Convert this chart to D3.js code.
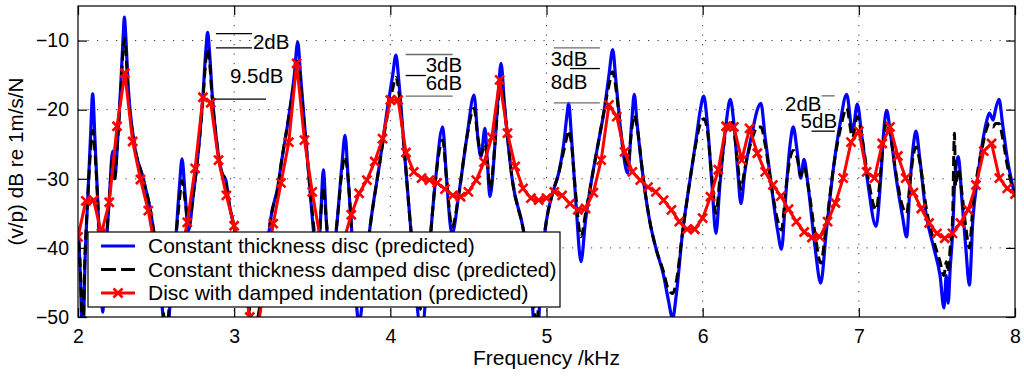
<!DOCTYPE html>
<html>
<head>
<meta charset="utf-8">
<script src="https://cdn.jsdelivr.net/npm/d3@7"></script>
<style>
  body { margin: 0; background: #fff; }
  svg { display: block; }
  text { font-family: "Liberation Sans", Arial, Helvetica, sans-serif; fill: #000; }
</style>
</head>
<body>
<svg id="chart" width="1024" height="376"></svg>
<script>

// ---- data (frequency kHz, level dB) ----
const xTicks = [2, 3, 4, 5, 6, 7, 8];
const yTicks = [-50, -40, -30, -20, -10];

const plainDisc = [
  [2.000,-37],[2.015,-44],[2.030,-55],[2.045,-42],[2.062,-33],[2.080,-24],[2.094,-17.7],[2.108,-24],
  [2.126,-33],[2.145,-44],[2.158,-49.3],[2.175,-42],[2.200,-33],[2.222,-26],[2.235,-30],[2.255,-24],
  [2.275,-16],[2.290,-9],[2.297,-6.6],[2.305,-9],[2.320,-16],[2.360,-24.9],[2.414,-29.7],[2.467,-35],
  [2.510,-42],[2.545,-50],[2.565,-55],[2.590,-48],[2.625,-39],[2.650,-31],[2.666,-27.1],[2.685,-32],
  [2.707,-37.5],[2.740,-32],[2.775,-25],[2.800,-18],[2.820,-11],[2.830,-8.8],[2.840,-11],[2.860,-18],
  [2.890,-25],[2.920,-29],[2.948,-30.3],[2.960,-32.5],[3.000,-37],[3.050,-43],[3.100,-50],[3.130,-55],
  [3.160,-50],[3.200,-42],[3.240,-35],[3.279,-31.2],[3.300,-28],[3.350,-21],[3.385,-15],[3.407,-10.2],
  [3.425,-15],[3.450,-22],[3.480,-30],[3.510,-38],[3.535,-42],[3.555,-35],[3.571,-28.7],[3.590,-36],
  [3.620,-44],[3.660,-36],[3.690,-28],[3.710,-23.7],[3.730,-30],[3.760,-40],[3.800,-51],[3.820,-48],
  [3.870,-37],[3.930,-28],[3.980,-20],[4.015,-15],[4.036,-12.1],[4.055,-16],[4.090,-26],[4.130,-37],
  [4.200,-52],[4.250,-40],[4.290,-30],[4.335,-22.5],[4.360,-30],[4.395,-38],[4.440,-32],[4.490,-24],
  [4.536,-17.9],[4.560,-24],[4.580,-26.8],[4.606,-22.7],[4.620,-27],[4.638,-32.6],[4.670,-25],[4.690,-18],
  [4.709,-13.3],[4.730,-19],[4.780,-30],[4.852,-37.4],[4.900,-45],[4.935,-55],[4.970,-42],[5.000,-36],
  [5.040,-32],[5.080,-29],[5.110,-25],[5.130,-21],[5.142,-19.1],[5.160,-24],[5.190,-34],[5.221,-42],
  [5.250,-36],[5.290,-30],[5.330,-25],[5.370,-20],[5.400,-15],[5.424,-11.3],[5.445,-16],[5.480,-24],
  [5.520,-29.2],[5.545,-22],[5.562,-17.8],[5.580,-22],[5.620,-30],[5.660,-36],[5.700,-40],[5.750,-44],
  [5.780,-47.5],[5.808,-50.2],[5.830,-47],[5.870,-38],[5.920,-30],[5.960,-24],[5.985,-20],[6.007,-18.05],
  [6.030,-22],[6.060,-31],[6.085,-37.9],[6.110,-31],[6.150,-22],[6.177,-18.5],[6.200,-22],[6.225,-29],
  [6.245,-33.6],[6.270,-29],[6.320,-23],[6.350,-20],[6.373,-19.1],[6.400,-24],[6.440,-31],[6.480,-37.5],
  [6.505,-40.2],[6.530,-33],[6.560,-25],[6.580,-22.5],[6.605,-26],[6.628,-29.9],[6.649,-27.2],[6.675,-31],
  [6.720,-40],[6.756,-45.1],[6.790,-38],[6.840,-28],[6.880,-22],[6.922,-17.8],[6.960,-23.2],[6.990,-19.2],
  [7.020,-24],[7.060,-31],[7.110,-36.9],[7.140,-30],[7.160,-23],[7.178,-20.1],[7.200,-23],[7.240,-30],
  [7.280,-35.5],[7.306,-38.4],[7.330,-30],[7.350,-25],[7.366,-23.1],[7.390,-27],[7.430,-35],[7.480,-40],
  [7.520,-44],[7.545,-48.7],[7.560,-44],[7.572,-48],[7.585,-43],[7.600,-38],[7.615,-30],[7.637,-26.8],
  [7.660,-33],[7.685,-40],[7.708,-45.4],[7.730,-36],[7.760,-30],[7.790,-25],[7.815,-22],[7.836,-20.5],
  [7.860,-21.5],[7.875,-20],[7.898,-18.5],[7.920,-22],[7.950,-27],[7.980,-30.5],[8.000,-32.6]
];

const dampedDisc = [
  [2.000,-37],[2.015,-43],[2.030,-52],[2.045,-41],[2.062,-33],[2.080,-26],[2.094,-23],[2.108,-26],
  [2.126,-33],[2.145,-42],[2.158,-46],[2.175,-41],[2.200,-33],[2.222,-27],[2.235,-30],[2.255,-24],
  [2.275,-17],[2.290,-11],[2.297,-9.7],[2.305,-11],[2.320,-17],[2.360,-24.9],[2.414,-29.7],[2.467,-35],
  [2.510,-42],[2.545,-49],[2.565,-52],[2.590,-47],[2.625,-39],[2.650,-33],[2.666,-30.3],[2.685,-33],
  [2.707,-36.5],[2.740,-32],[2.775,-25],[2.800,-18.5],[2.820,-12.5],[2.830,-11.2],[2.840,-12.5],[2.860,-18.5],
  [2.890,-25],[2.920,-29],[2.948,-30.5],[2.960,-32.5],[3.000,-37],[3.050,-43],[3.100,-49],[3.130,-52],
  [3.160,-49],[3.200,-42],[3.240,-35],[3.279,-31.5],[3.300,-28],[3.350,-21],[3.385,-16],[3.407,-13],
  [3.425,-16],[3.450,-22.5],[3.480,-30],[3.510,-37],[3.535,-41],[3.555,-35],[3.571,-31.2],[3.590,-36],
  [3.620,-42],[3.660,-36],[3.690,-29],[3.710,-26.8],[3.730,-30],[3.760,-40],[3.800,-48],[3.820,-46],
  [3.870,-37],[3.930,-28],[3.980,-21],[4.015,-17],[4.036,-15.3],[4.055,-17.5],[4.090,-26],[4.130,-37],
  [4.200,-49],[4.250,-40],[4.290,-30],[4.335,-24.4],[4.360,-30],[4.395,-37],[4.440,-32],[4.490,-24],
  [4.536,-19.8],[4.560,-24],[4.580,-26.5],[4.606,-25],[4.620,-27],[4.638,-31.5],[4.670,-25],[4.690,-19],
  [4.709,-15.8],[4.730,-19.5],[4.780,-30],[4.852,-37.4],[4.900,-44],[4.935,-51],[4.970,-41],[5.000,-36],
  [5.040,-32],[5.080,-29],[5.110,-26],[5.130,-24],[5.142,-23],[5.160,-25],[5.190,-33],[5.221,-38.4],
  [5.250,-35],[5.290,-30],[5.330,-25],[5.370,-20],[5.400,-16.5],[5.424,-14.5],[5.445,-17],[5.480,-24],
  [5.520,-28],[5.545,-23],[5.562,-20.8],[5.580,-22.5],[5.620,-30],[5.660,-36],[5.700,-40],[5.750,-43.5],
  [5.780,-46],[5.808,-46.6],[5.830,-45],[5.870,-38],[5.920,-30],[5.960,-24.5],[5.985,-22],[6.007,-21.3],
  [6.030,-23],[6.060,-30],[6.085,-35],[6.110,-30],[6.150,-23],[6.177,-21.5],[6.200,-23],[6.225,-28],
  [6.245,-31.5],[6.270,-28.5],[6.320,-24],[6.350,-22.5],[6.373,-22.5],[6.400,-25],[6.440,-31],[6.480,-36],
  [6.505,-37.4],[6.530,-32],[6.560,-27],[6.580,-25.9],[6.605,-27],[6.628,-29.5],[6.649,-28.3],[6.675,-31],
  [6.720,-38],[6.756,-42.2],[6.790,-37],[6.840,-28],[6.880,-23],[6.922,-19.8],[6.960,-24],[6.990,-21],
  [7.020,-24],[7.060,-30],[7.110,-34.5],[7.140,-29],[7.160,-24],[7.178,-21.8],[7.200,-23.5],[7.240,-29.5],
  [7.280,-34],[7.306,-35],[7.330,-30],[7.350,-26.5],[7.366,-25.4],[7.390,-27.5],[7.430,-34],[7.480,-39],
  [7.520,-42],[7.545,-44],[7.560,-42],[7.572,-43.5],[7.585,-40],[7.600,-36],[7.612,-23.4],[7.620,-31],
  [7.637,-28.5],[7.660,-32],[7.685,-37],[7.708,-40],[7.730,-34],[7.760,-29],[7.790,-25.5],[7.815,-23],
  [7.836,-22],[7.860,-22.5],[7.875,-22],[7.898,-22],[7.920,-24],[7.950,-28],[7.980,-31],[8.000,-32.6]
];

const indented = [
  [2.00,-38.4],[2.05,-33.2],[2.10,-33.1],[2.15,-37.9],[2.20,-33.4],[2.25,-22.4],[2.30,-14.7],[2.35,-24.6],
  [2.40,-30.1],[2.45,-34.6],[2.50,-41],[2.55,-45],[2.60,-46],[2.65,-42],[2.70,-36.3],[2.75,-28.5],
  [2.80,-18.2],[2.85,-19.0],[2.90,-27.3],[2.95,-32.4],[3.00,-36.8],[3.05,-43],[3.10,-50],[3.15,-52],
  [3.20,-44],[3.25,-36.5],[3.30,-30.6],[3.35,-24.7],[3.40,-13.3],[3.45,-24.4],[3.50,-31.9],[3.55,-38.5],
  [3.60,-43],[3.65,-43],[3.70,-39],[3.75,-35.2],[3.80,-32.1],[3.85,-30.2],[3.90,-27.5],[3.95,-24.2],
  [4.00,-18.6],[4.05,-18.6],[4.10,-26.2],[4.15,-29.0],[4.20,-29.9],[4.25,-30.2],[4.30,-30.6],[4.35,-31.5],
  [4.40,-32.4],[4.45,-32.6],[4.50,-31.9],[4.55,-30.2],[4.60,-27.6],[4.65,-24.0],[4.70,-15.7],[4.75,-23.4],
  [4.80,-28.2],[4.85,-31.4],[4.90,-32.8],[4.95,-33.1],[5.00,-32.8],[5.05,-31.9],[5.10,-32.4],[5.15,-33.6],
  [5.20,-34.5],[5.25,-34.3],[5.30,-32.0],[5.35,-27.3],[5.40,-19.3],[5.45,-21.0],[5.50,-26.1],[5.55,-29.0],
  [5.60,-30.2],[5.65,-31.2],[5.70,-31.9],[5.75,-33.1],[5.80,-34.5],[5.85,-36.2],[5.90,-37.3],[5.95,-37.3],
  [6.00,-35.7],[6.05,-32.6],[6.10,-28.7],[6.15,-22.4],[6.20,-22.5],[6.25,-27.3],[6.30,-22.7],[6.35,-26.3],
  [6.40,-29.0],[6.45,-30.9],[6.50,-32.5],[6.55,-34.4],[6.60,-36.2],[6.65,-37.7],[6.70,-38.5],[6.75,-38.4],
  [6.80,-36.2],[6.85,-33.5],[6.90,-29.9],[6.95,-24.7],[7.00,-23.1],[7.05,-29.0],[7.10,-29.9],[7.15,-24.9],
  [7.20,-22.5],[7.25,-26.7],[7.30,-29.9],[7.35,-32.0],[7.40,-34.3],[7.45,-36.4],[7.50,-37.9],[7.55,-38.6],
  [7.60,-37.9],[7.65,-36.4],[7.70,-34.5],[7.75,-30.9],[7.80,-26.0],[7.85,-24.9],[7.90,-29.9],[7.95,-31.4],
  [8.00,-32.2]
];

const seriesNames = [
  "Constant thickness disc (predicted)",
  "Constant thickness damped disc (predicted)",
  "Disc with damped indentation (predicted)"
];

// level-difference notes: lines [f1, f2, dB, grey?] and labels [f, dB, text, anchor]
const noteLines = [
  [2.883, 3.114, -8.99, false], [2.883, 3.114, -11.07, false], [2.871, 3.204, -18.48, false],
  [4.098, 4.399, -12.02, true], [4.098, 4.229, -15.06, false], [4.098, 4.399, -18.05, true],
  [5.047, 5.342, -11.07, true], [5.150, 5.342, -14.05, false], [5.047, 5.342, -19.02, true],
  [6.761, 6.846, -18.0, true], [6.697, 6.846, -23.11, false]
];
const noteLabels = [
  [3.120, -11.16, "2dB", "start"], [2.973, -16.21, "9.5dB", "start"],
  [4.460, -14.54, "3dB", "end"], [4.460, -17.18, "6dB", "end"],
  [5.028, -13.67, "3dB", "start"], [5.028, -17.08, "8dB", "start"],
  [6.761, -20.17, "2dB", "end"], [6.627, -22.63, "5dB", "start"]
];

// ---- drawing ----
const mLeft = 78, mRight = 1015, mTop = 6, mBottom = 317;

const svg = d3.select("#chart");
const x = d3.scaleLinear().domain([2, 8]).range([mLeft, mRight]);
const y = d3.scaleLinear().domain([-50, -5]).range([mBottom, mTop]);

svg.append("defs").append("clipPath").attr("id", "plotclip")
  .append("rect")
  .attr("x", mLeft).attr("y", mTop)
  .attr("width", mRight - mLeft).attr("height", mBottom - mTop);

// dotted grid
let grid = svg.append("g").attr("stroke", "#333").attr("stroke-width", 1)
  .attr("stroke-dasharray", "1.2,8.3");
grid.selectAll(".gx").data(xTicks.slice(1, -1)).enter().append("line")
  .attr("x1", d => x(d)).attr("x2", d => x(d))
  .attr("y1", mTop).attr("y2", mBottom);
grid.selectAll(".gy").data(yTicks.slice(1)).enter().append("line")
  .attr("x1", mLeft).attr("x2", mRight)
  .attr("y1", d => y(d)).attr("y2", d => y(d));

// axes, ticks pointing inward on all four sides
const tickLen = 9;
let fmt = d3.format("d");
let axB = svg.append("g").attr("transform", "translate(0," + mBottom + ")")
  .call(d3.axisBottom(x).tickValues(xTicks).tickFormat(fmt).tickSizeInner(-tickLen).tickSizeOuter(0).tickPadding(12));
let axL = svg.append("g").attr("transform", "translate(" + mLeft + ",0)")
  .call(d3.axisLeft(y).tickValues(yTicks).tickFormat(fmt).tickSizeInner(-tickLen).tickSizeOuter(0).tickPadding(9));
svg.append("g").attr("transform", "translate(0," + mTop + ")")
  .call(d3.axisTop(x).tickValues(xTicks).tickFormat("").tickSizeInner(-tickLen).tickSizeOuter(0));
svg.append("g").attr("transform", "translate(" + mRight + ",0)")
  .call(d3.axisRight(y).tickValues(yTicks).tickFormat("").tickSizeInner(-tickLen).tickSizeOuter(0));

svg.selectAll(".domain").remove();
svg.selectAll(".tick line").attr("stroke", "#000").attr("stroke-width", 1.2);
axB.selectAll("text").style("font-size", "19.5px").attr("fill", "#000");
axL.selectAll("text").style("font-size", "19.5px").attr("fill", "#000");

// curves
const lineGen = d3.line()
  .x(d => x(d[0]))
  .y(d => y(d[1]))
  .curve(d3.curveMonotoneX);

let plot = svg.append("g").attr("clip-path", "url(#plotclip)");

plot.append("path").datum(plainDisc)
  .attr("fill", "none").attr("stroke", "#0000ff").attr("stroke-width", 3.2)
  .attr("stroke-linejoin", "round")
  .attr("d", lineGen);

plot.append("path").datum(dampedDisc)
  .attr("fill", "none").attr("stroke", "#000").attr("stroke-width", 3)
  .attr("stroke-dasharray", "10,5")
  .attr("d", lineGen);

plot.append("path").datum(indented)
  .attr("fill", "none").attr("stroke", "#ff0000").attr("stroke-width", 3)
  .attr("stroke-linejoin", "round")
  .attr("d", d3.line().x(d => x(d[0])).y(d => y(d[1])));

const cross = "M-4.5,-4.5L4.5,4.5M-4.5,4.5L4.5,-4.5";
plot.selectAll(".mk").data(indented).enter().append("path")
  .attr("class", "mk")
  .attr("transform", d => "translate(" + x(d[0]) + "," + y(d[1]) + ")")
  .attr("d", cross)
  .attr("fill", "none").attr("stroke", "#ff0000").attr("stroke-width", 2.6);

// level-difference notes
svg.selectAll(".nl").data(noteLines).enter().append("line")
  .attr("x1", d => x(d[0])).attr("x2", d => x(d[1]))
  .attr("y1", d => y(d[2])).attr("y2", d => y(d[2]))
  .attr("stroke", d => d[3] ? "#6a6a6a" : "#000")
  .attr("stroke-width", 1.3);

svg.selectAll(".nt").data(noteLabels).enter().append("text")
  .attr("x", d => x(d[0])).attr("y", d => y(d[1]))
  .attr("text-anchor", d => d[3])
  .style("font-size", "20.5px")
  .text(d => d[2]);

// frame
svg.append("rect")
  .attr("x", mLeft).attr("y", mTop)
  .attr("width", mRight - mLeft).attr("height", mBottom - mTop)
  .attr("fill", "none").attr("stroke", "#000").attr("stroke-width", 1.2);

// legend
let legend = svg.append("g").attr("transform", "translate(88,232)");
legend.append("rect")
  .attr("width", 472).attr("height", 75)
  .attr("fill", "#fff").attr("stroke", "#000").attr("stroke-width", 1.2);

let rowY = [14, 37.5, 61];
let rows = legend.selectAll(".row").data(seriesNames).enter().append("g")
  .attr("transform", (d, i) => "translate(0," + rowY[i] + ")");

rows.append("line")
  .attr("x1", 13).attr("x2", 47).attr("y1", 0).attr("y2", 0)
  .attr("stroke", (d, i) => ["#0000ff", "#000", "#ff0000"][i])
  .attr("stroke-width", 3)
  .attr("stroke-dasharray", (d, i) => i === 1 ? "15,5" : null);

legend.append("path")
  .attr("transform", "translate(30," + rowY[2] + ")")
  .attr("d", cross)
  .attr("fill", "none").attr("stroke", "#ff0000").attr("stroke-width", 2.6);

rows.append("text")
  .attr("x", 60).attr("dy", "0.35em")
  .style("font-size", "21px")
  .text(d => d);

// axis titles
svg.append("text")
  .attr("x", x(5)).attr("y", 365)
  .attr("text-anchor", "middle")
  .style("font-size", "21px")
  .text("Frequency /kHz");

svg.append("text")
  .attr("transform", "translate(23," + ((mTop + mBottom) / 2) + ")rotate(-90)")
  .attr("text-anchor", "middle")
  .style("font-size", "20.7px")
  .text("(v/p) dB re 1m/s/N");

</script>
</body>
</html>
